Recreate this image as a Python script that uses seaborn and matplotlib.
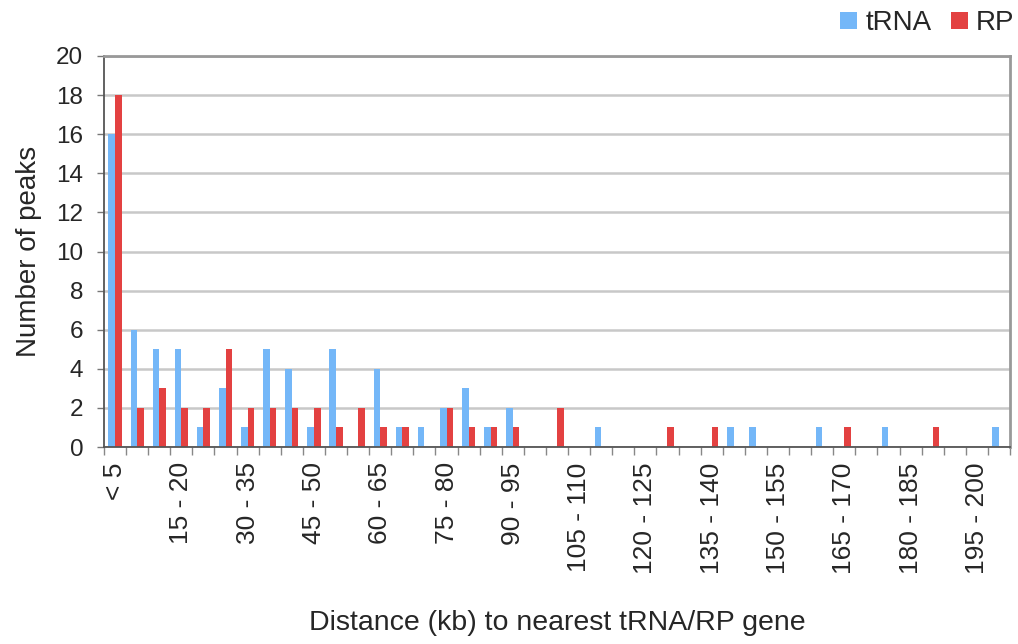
import matplotlib
matplotlib.use("Agg")
import matplotlib.pyplot as plt
import seaborn as sns
import pandas as pd
from matplotlib.ticker import FixedLocator

# Distance bins (kb) to the nearest tRNA / RP gene
bins = ["< 5"] + [f"{lo} - {lo + 5}" for lo in range(5, 200, 5)] + ["> 200"]
trna_counts = [16, 6, 5, 5, 1, 3, 1, 5, 4, 1, 5, 0, 4, 1, 1, 2, 3, 1, 2, 0,
               0, 0, 1, 0, 0, 0, 0, 0, 1, 1, 0, 0, 1, 0, 0, 1, 0, 0, 0, 0, 1]
rp_counts = [18, 2, 3, 2, 2, 5, 2, 2, 2, 2, 1, 2, 1, 1, 0, 2, 1, 1, 1, 0,
             2, 0, 0, 0, 0, 1, 0, 1, 0, 0, 0, 0, 0, 1, 0, 0, 0, 1, 0, 0, 0]
series = ["tRNA", "RP"]
colors = {"tRNA": "#74B7F8", "RP": "#E34141"}

df = pd.DataFrame({
    "bin": bins * 2,
    "peaks": trna_counts + rp_counts,
    "gene": [series[0]] * len(bins) + [series[1]] * len(bins),
})

sns.set_style("white")
plt.rcParams["font.family"] = ["Liberation Sans", "DejaVu Sans"]

fig = plt.figure(figsize=(10.18, 6.44), dpi=100)
ax = fig.add_axes([104 / 1018, 1 - 447 / 644, (1010 - 104) / 1018, (447 - 56) / 644])

sns.barplot(data=df, x="bin", y="peaks", hue="gene", order=bins,
            hue_order=series, palette=colors, saturation=1, width=0.6,
            dodge=True, ax=ax, linewidth=0)

ax.set_ylim(0, 20)
ax.set_xlim(-0.5, len(bins) - 0.5)
ax.set_yticks(range(0, 21, 2))
ax.yaxis.grid(True, color="#c8c8c8", linewidth=1.8)
ax.set_axisbelow(True)

# labelled ticks every third bin, boundary ticks between all bins
label_pos = list(range(0, len(bins), 3))
ax.xaxis.set_major_locator(FixedLocator(label_pos))
ax.set_xticklabels([bins[i] for i in label_pos], rotation=90, fontsize=19)
ax.xaxis.set_minor_locator(FixedLocator([i - 0.5 for i in range(len(bins) + 1)]))
ax.tick_params(axis="x", which="major", length=0, pad=11)
ax.tick_params(axis="x", which="minor", length=6, width=1, color="#888888",
               direction="out", bottom=True)
ax.tick_params(axis="y", which="major", length=5, width=1, color="#777777",
               direction="out", left=True, pad=10, labelsize=17.5)

for side in ("left", "bottom"):
    ax.spines[side].set_color("#555555")
    ax.spines[side].set_linewidth(1.3)
for side in ("top", "right"):
    ax.spines[side].set_color("#999999")
    ax.spines[side].set_linewidth(2.0)

ax.set_xlabel("Distance (kb) to nearest tRNA/RP gene", fontsize=20.5, labelpad=26)
ax.set_ylabel("Number of peaks", fontsize=20, labelpad=10)

handles, labels = ax.get_legend_handles_labels()
ax.get_legend().remove()
fig.legend(handles, labels, loc="upper right", bbox_to_anchor=(1.013, 1.01),
           ncol=2, frameon=False, fontsize=20, handlelength=0.6,
           handleheight=0.6, handletextpad=0.3, columnspacing=0.7,
           borderaxespad=0.2)

fig.savefig("out.png", dpi=100)
